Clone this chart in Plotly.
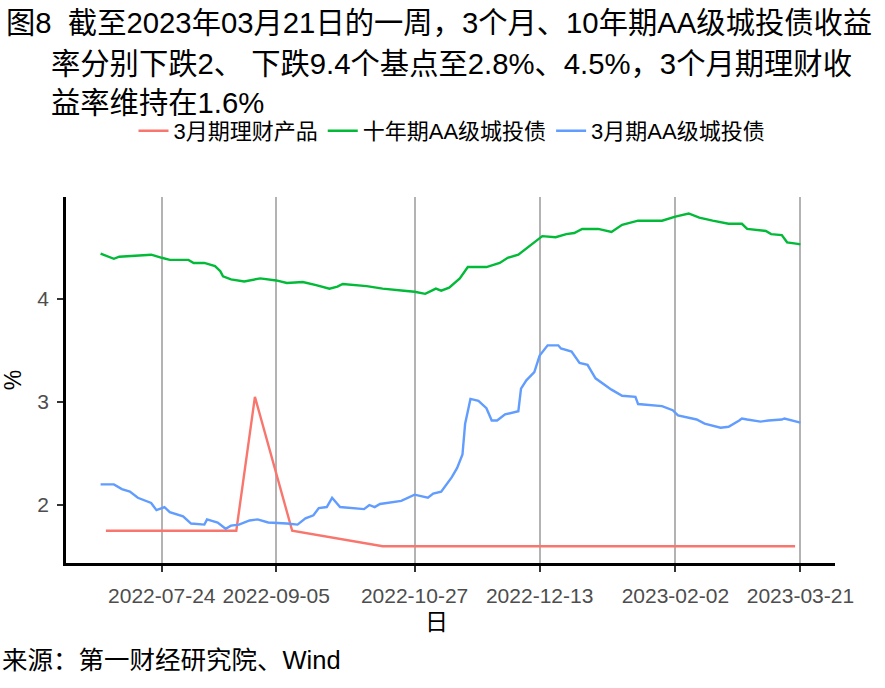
import plotly.graph_objects as go

# ---------------- data ----------------
wm_dates = ["2022-07-03", "2022-08-21", "2022-08-28", "2022-09-11", "2022-10-15", "2023-03-19"]
wm_vals = [1.75, 1.75, 3.05, 1.75, 1.60, 1.60]

aa10_dates = ["2022-07-01", "2022-07-06", "2022-07-08", "2022-07-20", "2022-07-24", "2022-07-27",
              "2022-08-03", "2022-08-05", "2022-08-09", "2022-08-13", "2022-08-15", "2022-08-16",
              "2022-08-19", "2022-08-24", "2022-08-30", "2022-09-05", "2022-09-09", "2022-09-15",
              "2022-09-20", "2022-09-25", "2022-09-28", "2022-09-30", "2022-10-09", "2022-10-15",
              "2022-10-23", "2022-10-27", "2022-10-31", "2022-11-04", "2022-11-06", "2022-11-09",
              "2022-11-13", "2022-11-16", "2022-11-21", "2022-11-23", "2022-11-28", "2022-12-01",
              "2022-12-05", "2022-12-08", "2022-12-13", "2022-12-14", "2022-12-19", "2022-12-23",
              "2022-12-26", "2022-12-29", "2023-01-04", "2023-01-09", "2023-01-13", "2023-01-19",
              "2023-01-28", "2023-02-02", "2023-02-07", "2023-02-11", "2023-02-16", "2023-02-22",
              "2023-02-27", "2023-03-01", "2023-03-08", "2023-03-10", "2023-03-14", "2023-03-16",
              "2023-03-20", "2023-03-21"]
aa10_vals = [4.44, 4.39, 4.41, 4.43, 4.40, 4.38,
             4.38, 4.35, 4.35, 4.32, 4.27, 4.22,
             4.19, 4.17, 4.20, 4.18, 4.155, 4.165,
             4.135, 4.10, 4.12, 4.145, 4.125, 4.10,
             4.08, 4.07, 4.05, 4.10, 4.08, 4.11,
             4.20, 4.31, 4.31, 4.31, 4.35, 4.40,
             4.43, 4.49, 4.59, 4.61, 4.60, 4.63,
             4.64, 4.68, 4.68, 4.65, 4.72, 4.76,
             4.76, 4.80, 4.83, 4.79, 4.76, 4.73,
             4.73, 4.68, 4.66, 4.63, 4.62, 4.55,
             4.535, 4.53]

aa3m_dates = ["2022-07-01", "2022-07-06", "2022-07-09", "2022-07-12", "2022-07-15", "2022-07-20",
              "2022-07-22", "2022-07-25", "2022-07-27", "2022-08-01", "2022-08-04", "2022-08-09",
              "2022-08-10", "2022-08-14", "2022-08-17", "2022-08-19", "2022-08-22", "2022-08-26",
              "2022-08-29", "2022-09-02", "2022-09-09", "2022-09-13", "2022-09-16", "2022-09-19",
              "2022-09-21", "2022-09-24", "2022-09-26", "2022-09-29", "2022-10-08", "2022-10-10",
              "2022-10-12", "2022-10-14", "2022-10-22", "2022-10-27", "2022-11-01", "2022-11-03",
              "2022-11-06", "2022-11-10", "2022-11-12", "2022-11-14", "2022-11-15", "2022-11-17",
              "2022-11-20", "2022-11-23", "2022-11-25", "2022-11-27", "2022-11-30", "2022-12-05",
              "2022-12-06", "2022-12-08", "2022-12-11", "2022-12-13", "2022-12-16", "2022-12-20",
              "2022-12-21", "2022-12-25", "2022-12-28", "2022-12-31", "2023-01-03", "2023-01-09",
              "2023-01-13", "2023-01-18", "2023-01-19", "2023-01-28", "2023-02-01", "2023-02-03",
              "2023-02-10", "2023-02-13", "2023-02-19", "2023-02-22", "2023-02-26", "2023-02-27",
              "2023-03-01", "2023-03-06", "2023-03-09", "2023-03-14", "2023-03-15", "2023-03-21"]
aa3m_vals = [2.20, 2.20, 2.155, 2.13, 2.07, 2.02,
             1.95, 1.98, 1.93, 1.89, 1.82, 1.81,
             1.86, 1.83, 1.77, 1.80, 1.81, 1.85,
             1.86, 1.83, 1.82, 1.81, 1.87, 1.90,
             1.97, 1.98, 2.07, 1.98, 1.96, 2.00,
             1.98, 2.01, 2.04, 2.10, 2.07, 2.11,
             2.13, 2.27, 2.36, 2.49, 2.79, 3.03,
             3.01, 2.94, 2.82, 2.82, 2.88, 2.91,
             3.13, 3.21, 3.29, 3.45, 3.55, 3.55,
             3.52, 3.49, 3.38, 3.36, 3.23, 3.12,
             3.06, 3.05, 2.98, 2.96, 2.92, 2.87,
             2.83, 2.79, 2.75, 2.76, 2.82, 2.84,
             2.83, 2.81, 2.82, 2.83, 2.84, 2.80]

series_names = ["3月期理财产品", "十年期AA级城投债", "3月期AA级城投债"]
series_colors = ["#F8766D", "#00BA38", "#619CFF"]

tick_dates = ["2022-07-24", "2022-09-05", "2022-10-27", "2022-12-13", "2023-02-02", "2023-03-21"]
y_ticks = [2, 3, 4]

title_lines = ["图8  截至2023年03月21日的一周，3个月、10年期AA级城投债收益",
               "率分别下跌2、 下跌9.4个基点至2.8%、4.5%，3个月期理财收",
               "益率维持在1.6%"]
source_text = "来源：第一财经研究院、Wind"
x_title = "日"
y_title = "%"

# ---------------- layout constants ----------------
W, H = 885, 688
ML, MR, MT, MB = 66, 50, 197, 125
PW, PH = W - ML - MR, H - MT - MB
FONT = "Liberation Sans, Arial, Noto Sans CJK SC, sans-serif"


def px_x(px):
    return (px - ML) / PW


def px_y(py):
    return (H - MB - py) / PH


fig = go.Figure()
for d, v, n, c in zip([wm_dates, aa10_dates, aa3m_dates],
                      [wm_vals, aa10_vals, aa3m_vals],
                      series_names, series_colors):
    fig.add_trace(go.Scatter(x=d, y=v, name=n, mode="lines",
                             line=dict(color=c, width=2.4)))

annotations = []
for txt, lx, cy in zip(title_lines, [4, 49, 49], [22, 63, 103]):
    annotations.append(dict(text=txt, xref="paper", yref="paper", x=px_x(lx), y=px_y(cy),
                            xanchor="left", yanchor="middle", showarrow=False,
                            font=dict(size=29.3, color="#000000", family=FONT)))
annotations.append(dict(text=source_text, xref="paper", yref="paper", x=px_x(0), y=px_y(660),
                        xanchor="left", yanchor="middle", showarrow=False,
                        font=dict(size=25.5, color="#000000", family=FONT)))
annotations.append(dict(text=x_title, xref="paper", yref="paper", x=px_x(436), y=px_y(622),
                        xanchor="center", yanchor="middle", showarrow=False,
                        font=dict(size=23, color="#000000", family=FONT)))

fig.update_layout(
    width=W, height=H,
    margin=dict(l=ML, r=MR, t=MT, b=MB, pad=0),
    paper_bgcolor="white", plot_bgcolor="white",
    font=dict(family=FONT, color="#000000"),
    showlegend=True,
    legend=dict(orientation="h", x=px_x(452), xanchor="center", y=px_y(131), yanchor="middle",
                font=dict(size=22, color="#000000", family=FONT),
                bgcolor="rgba(0,0,0,0)", itemwidth=30, tracegroupgap=0),
    annotations=annotations,
    xaxis=dict(
        type="date", range=["2022-06-18", "2023-04-03"],
        tickvals=tick_dates, tickformat="%Y-%m-%d",
        showgrid=True, gridcolor="#B3B3B3", gridwidth=1.7,
        showline=True, linecolor="#000000", linewidth=2.5,
        ticks="outside", ticklen=6, tickwidth=2, tickcolor="#333333",
        tickfont=dict(size=21, color="#4D4D4D", family=FONT),
        ticklabelstandoff=6,
        zeroline=False,
    ),
    yaxis=dict(
        range=[1.437, 4.99], tickvals=y_ticks,
        showgrid=False,
        showline=True, linecolor="#000000", linewidth=2.5,
        ticks="outside", ticklen=6, tickwidth=2, tickcolor="#333333",
        tickfont=dict(size=21, color="#4D4D4D", family=FONT),
        ticklabelstandoff=4,
        title=dict(text=y_title, font=dict(size=23, color="#000000", family=FONT), standoff=10),
        zeroline=False,
    ),
)

fig.write_html("out.html")
